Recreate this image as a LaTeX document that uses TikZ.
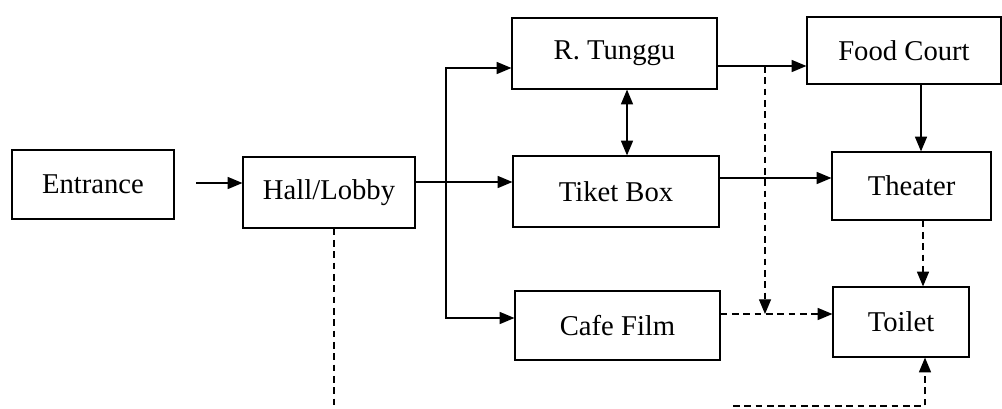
\documentclass[tikz,border=0pt]{standalone}
\usepackage{fontspec}
\setmainfont{Liberation Serif}
\usetikzlibrary{arrows.meta}
\begin{document}
\begin{tikzpicture}[x=0.75pt,y=-0.75pt,
  box/.style={draw,line width=0.9pt,inner sep=0pt,font=\fontsize{21.5}{24}\selectfont},
  con/.style={line width=0.9pt},
  arr/.style={con,-{Triangle[length=11pt,width=9pt]}},
  biarr/.style={con,{Triangle[length=11pt,width=9pt]}-{Triangle[length=11pt,width=9pt]}},
  darr/.style={arr,dash pattern=on 5pt off 3.5pt},
  dln/.style={con,dash pattern=on 5pt off 3.5pt}]
\useasboundingbox (0,0) rectangle (1002,408);
% boxes
\node[box,minimum width=121.5pt,minimum height=51.75pt] (ent) at (93,184.5) {Entrance};
\node[box,minimum width=129pt,minimum height=53.25pt] (hall) at (329,192.5) {Hall/Lobby};
\node[box,minimum width=153.75pt,minimum height=53.25pt] (rt) at (614.5,53.5) {R. Tunggu};
\node[box,minimum width=154.5pt,minimum height=53.25pt] (tk) at (616,191.5) {Tiket Box};
\node[box,minimum width=153.75pt,minimum height=51.75pt] (cf) at (617.5,325.5) {Cafe Film};
\node[box,minimum width=145.5pt,minimum height=50.25pt] (fc) at (904,50.5) {Food Court};
\node[box,minimum width=119.25pt,minimum height=51pt] (th) at (911.5,186) {Theater};
\node[box,minimum width=102pt,minimum height=52.5pt] (tl) at (901,322) {Toilet};
% junction coordinates
\coordinate (e1) at (196,183);
\coordinate (br) at (446,182);
\coordinate (bt) at (446,68);
\coordinate (bb) at (446,318);
\coordinate (r1) at (627,0);
\coordinate (j1) at (765,66);
\coordinate (j2) at (765,314);
\coordinate (t1) at (0,178);
\coordinate (f1) at (921,0);
\coordinate (h1) at (923,0);
\coordinate (hb) at (334,408);
\coordinate (b1) at (733,406);
\coordinate (b2) at (925,406);
% connectors
\draw[arr] (e1) -- (e1 -| hall.west);
\draw[arr] (br -| hall.east) -- (br -| tk.west);
\draw[biarr] (bt -| rt.west) -- (bt) -- (bb) -- (bb -| cf.west);
\draw[biarr] (r1 |- rt.south) -- (r1 |- tk.north);
\draw[arr] (j1 -| rt.east) -- (j1 -| fc.west);
\draw[darr] (j1) -- (j2);
\draw[darr] (j2 -| cf.east) -- (j2 -| tl.west);
\draw[arr] (t1 -| tk.east) -- (t1 -| th.west);
\draw[arr] (f1 |- fc.south) -- (f1 |- th.north);
\draw[darr] (h1 |- th.south) -- (h1 |- tl.north);
\draw[dln] (hb |- hall.south) -- (hb);
\draw[darr] (b1) -- (b2) -- (b2 |- tl.south);
\end{tikzpicture}
\end{document}
